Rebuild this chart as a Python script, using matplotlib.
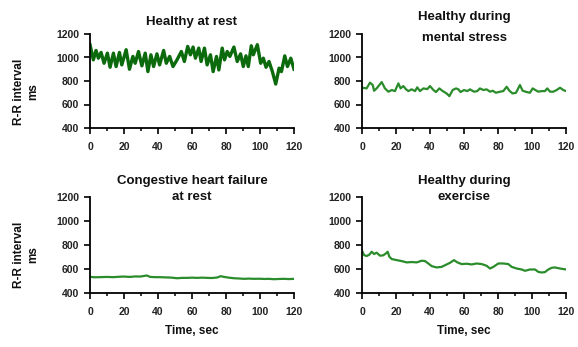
import matplotlib
matplotlib.use('Agg')
import matplotlib.pyplot as plt
from matplotlib.ticker import MultipleLocator

plt.rcParams['font.family'] = ['Liberation Sans', 'DejaVu Sans']
plt.rcParams['font.weight'] = 'bold'

# R-R interval series (time in s, interval in ms)
rest_t = [0, 1.97, 3.54, 4.92, 6.5, 8.27, 10.24, 11.81, 13.78, 15.35, 17.32, 18.7,
          21.26, 23.23, 25.2, 26.57, 28.54, 30.51, 32.48, 34.06, 35.83, 37.4, 39.37,
          40.94, 43.31, 44.88, 46.85, 48.82, 51.18, 53.74, 55.51, 57.48, 59.06, 60.63,
          62.01, 63.98, 65.35, 67.32, 68.9, 70.87, 72.44, 74.41, 75.79, 77.76, 79.13,
          80.71, 82.28, 84.65, 86.61, 88.58, 90.16, 91.73, 93.11, 94.88, 96.06, 98.43,
          100.39, 101.97, 103.54, 105.31, 107.28, 109.25, 111.22, 112.6, 114.57,
          116.14, 118.11, 120]
rest_rr = [1109, 980, 1060, 994, 1043, 951, 1037, 917, 1037, 923, 1043, 937,
           1066, 900, 1009, 951, 1051, 929, 1037, 880, 1023, 923, 1031,
           937, 1060, 951, 1009, 923, 980, 1051, 966, 1094, 1023, 1089,
           994, 1080, 966, 1080, 937, 1023, 880, 1009, 894, 1080, 980,
           1051, 1009, 1089, 966, 1031, 923, 1014, 923, 1100, 1023, 1109,
           951, 994, 917, 966, 880, 774, 909, 880, 1014,
           923, 994, 900]

stress_t = [0, 2.7, 4.7, 6.3, 7.1, 8.6, 11.6, 13.5, 15.5, 17.5, 19.4, 21.4, 22.7,
            24.3, 25.9, 27.3, 29.2, 31.2, 32.5, 34.1, 36.1, 38.4, 40.0, 42.0, 43.5,
            45.5, 47.5, 49.8, 51.4, 53.3, 55.3, 56.7, 58.0, 60.0, 62.0, 63.5, 65.9,
            67.8, 69.4, 71.4, 73.3, 75.3, 76.9, 78.8, 81.2, 83.1, 85.1, 86.7, 88.6,
            90.6, 92.9, 94.5, 96.9, 98.8, 100.4, 102.0, 103.7, 105.7, 107.6, 109.0,
            110.6, 112.5, 114.5, 116.5, 118.4, 120]
stress_rr = [743, 737, 786, 766, 717, 737, 791, 737, 709, 723, 714, 780, 737,
             757, 729, 714, 729, 714, 746, 714, 737, 731, 757, 723, 706,
             737, 714, 694, 671, 723, 737, 729, 706, 723, 714, 729, 709,
             714, 737, 723, 729, 709, 717, 700, 709, 714, 751, 717, 694,
             700, 766, 717, 706, 700, 737, 723, 709, 714, 714, 737,
             709, 709, 723, 743, 723, 714]

chf_t = [0, 2.9, 5.9, 9.8, 13.8, 16.7, 19.7, 23.6, 26.5, 29.5, 33.5, 35.4, 38.4,
         41.3, 44.3, 47.2, 51.2, 54.1, 57.1, 60.0, 63.0, 65.9, 68.9, 71.9, 74.8,
         76.8, 79.7, 82.2, 84.6, 87.6, 90.6, 93.5, 96.5, 99.4, 102.4, 105.3,
         108.3, 111.2, 114.2, 117.1, 120]
chf_rr = [534, 531, 532, 534, 532, 535, 537, 534, 538, 537, 546, 534, 532,
          532, 530, 529, 523, 526, 526, 528, 526, 528, 526, 525, 529,
          540, 532, 527, 523, 521, 518, 520, 518, 519, 517, 518,
          515, 517, 518, 516, 518]

exer_t = [0, 1.2, 2.7, 4.3, 5.7, 7.1, 8.6, 10.6, 12.5, 14.1, 15.1, 16.1, 17.5,
          20.4, 23.3, 26.3, 29.2, 32.2, 35.1, 37.1, 39.0, 41.0, 43.9, 46.9, 49.8,
          51.8, 54.1, 56.1, 58.6, 61.6, 64.5, 67.5, 70.4, 73.3, 75.3, 77.3, 80.2,
          83.1, 86.1, 88.0, 91.0, 93.9, 95.9, 98.8, 101.8, 103.7, 105.7, 107.6,
          109.6, 111.6, 113.5, 116.5, 120]
exer_rr = [753, 716, 708, 719, 744, 725, 736, 711, 714, 730, 744, 702, 683,
           674, 666, 655, 658, 655, 669, 666, 646, 624, 613, 618, 638,
           652, 674, 655, 641, 644, 638, 646, 641, 627, 604, 618, 646,
           646, 641, 618, 604, 596, 585, 596, 596, 576, 571, 574,
           596, 610, 613, 604, 596]

# title lines with their pixel heights from the top of the figure
panels = [
    ([('Healthy at rest', 22)], rest_t, rest_rr, '#0b6a0b', 2.4),
    ([('Healthy during', 17), ('mental stress', 38)], stress_t, stress_rr, '#2a8c2a', 1.6),
    ([('Congestive heart failure', 181), ('at rest', 197)], chf_t, chf_rr, '#2a8c2a', 1.6),
    ([('Healthy during', 181), ('exercise', 197)], exer_t, exer_rr, '#2a8c2a', 1.6),
]

W, H = 578, 347
fig = plt.figure(figsize=(W / 100, H / 100), dpi=100)

lefts = [90, 362]
rows = [(34, 128), (197, 293)]  # pixel y of 1200 and 400

for i, (title, t, rr, color, lw) in enumerate(panels):
    r, c = divmod(i, 2)
    top, bot = rows[r]
    ax = fig.add_axes([lefts[c] / W, 1 - bot / H, 204 / W, (bot - top) / H])
    ax.plot(t, rr, color=color, lw=lw, solid_joinstyle='round')
    ax.set_xlim(0, 120)
    ax.set_ylim(400, 1200)
    ax.set_yticks([400, 600, 800, 1000, 1200])
    ax.set_xticks(range(0, 121, 20))
    ax.xaxis.set_minor_locator(MultipleLocator(10))
    for s in ('top', 'right'):
        ax.spines[s].set_visible(False)
    for s in ('left', 'bottom'):
        ax.spines[s].set_linewidth(1.3)
    ax.tick_params(which='major', direction='out', length=4, width=1.2,
                   labelsize=7.5, colors='black', labelcolor='#222222')
    ax.tick_params(axis='x', which='major', pad=6)
    ax.tick_params(axis='y', which='major', pad=4)
    ax.tick_params(which='minor', direction='out', length=2.5, width=1.1)
    for lab in ax.get_xticklabels() + ax.get_yticklabels():
        lab.set_fontweight('bold')

    cx = (lefts[c] + 102) / W
    for line, ypx in title:
        fig.text(cx, 1 - ypx / H, line, ha='center', va='center', fontsize=9.5,
                 fontweight='bold', color='#111111')

    if c == 0:
        fig.text(26 / W, 1 - (top + 58) / H, 'R-R interval\nms', rotation=90,
                 ha='center', va='center', fontsize=8.5, fontweight='bold',
                 linespacing=1.25, color='#111111')
    if r == 1:
        fig.text(cx, 1 - 331 / H, 'Time, sec', ha='center', va='center',
                 fontsize=8.5, fontweight='bold', color='#111111')

fig.savefig('out.png', dpi=100)
